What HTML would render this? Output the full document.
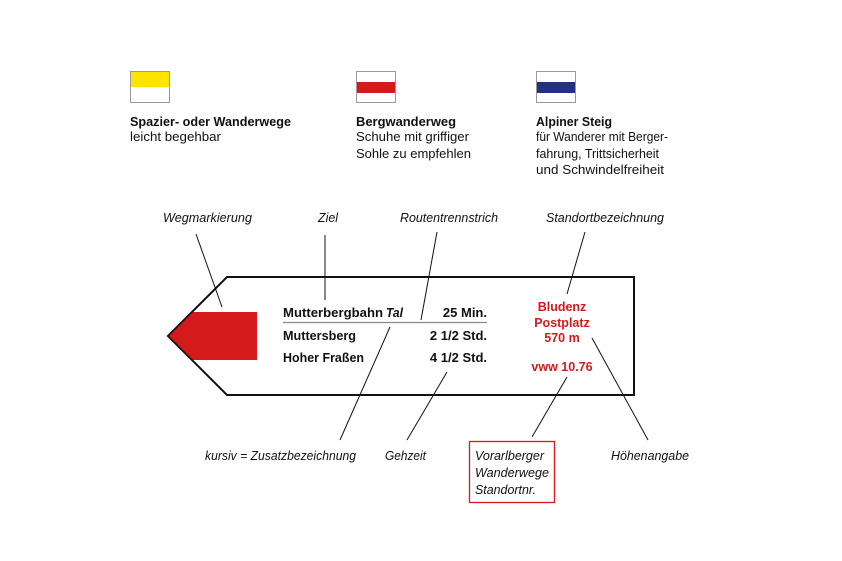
<!DOCTYPE html>
<html><head><meta charset="utf-8"><style>
html,body{margin:0;padding:0;background:#fff;}
svg{display:block;}
text{font-family:"Liberation Sans",sans-serif;}
.b{font-size:13px;font-weight:bold;fill:#111;}
.n{font-size:13px;fill:#111;}
.i{font-size:12.5px;font-style:italic;fill:#111;}
.s{font-size:13px;font-weight:bold;fill:#111;}
.r{font-size:12.5px;font-weight:bold;fill:#d41a1a;}
</style></head><body>
<svg width="842" height="561" viewBox="0 0 842 561" xmlns="http://www.w3.org/2000/svg">
<!-- legend boxes -->
<rect x="130.5" y="71.5" width="39" height="31" fill="#fff" stroke="#999"/>
<rect x="131" y="72" width="38" height="15" fill="#ffe400"/>
<rect x="356.5" y="71.5" width="39" height="31" fill="#fff" stroke="#999"/>
<rect x="357" y="82" width="38" height="11" fill="#d41a1a"/>
<rect x="536.5" y="71.5" width="39" height="31" fill="#fff" stroke="#999"/>
<rect x="537" y="82" width="38" height="11" fill="#263080"/>

<text class="b" x="130" y="126" textLength="161" lengthAdjust="spacingAndGlyphs">Spazier- oder Wanderwege</text>
<text class="n" x="130" y="141" textLength="91" lengthAdjust="spacingAndGlyphs">leicht begehbar</text>
<text class="b" x="356" y="126" textLength="100" lengthAdjust="spacingAndGlyphs">Bergwanderweg</text>
<text class="n" x="356" y="141" textLength="113" lengthAdjust="spacingAndGlyphs">Schuhe mit griffiger</text>
<text class="n" x="356" y="158" textLength="115" lengthAdjust="spacingAndGlyphs">Sohle zu empfehlen</text>
<text class="b" x="536" y="126" textLength="76" lengthAdjust="spacingAndGlyphs">Alpiner Steig</text>
<text class="n" x="536" y="141" textLength="132" lengthAdjust="spacingAndGlyphs">für Wanderer mit Berger-</text>
<text class="n" x="536" y="158" textLength="123" lengthAdjust="spacingAndGlyphs">fahrung, Trittsicherheit</text>
<text class="n" x="536" y="174" textLength="128" lengthAdjust="spacingAndGlyphs">und Schwindelfreiheit</text>

<!-- top labels -->
<text class="i" x="163" y="222" textLength="89" lengthAdjust="spacingAndGlyphs">Wegmarkierung</text>
<text class="i" x="318" y="222" textLength="20" lengthAdjust="spacingAndGlyphs">Ziel</text>
<text class="i" x="400" y="222" textLength="98" lengthAdjust="spacingAndGlyphs">Routentrennstrich</text>
<text class="i" x="546" y="222" textLength="118" lengthAdjust="spacingAndGlyphs">Standortbezeichnung</text>

<!-- sign -->
<polygon points="168,336 227,277 634,277 634,395 227,395" fill="#fff" stroke="#111" stroke-width="2"/>
<polygon points="169,336 193,312 257,312 257,360 193,360" fill="#d41a1a"/>

<text class="s" x="283" y="317" textLength="100" lengthAdjust="spacingAndGlyphs">Mutterbergbahn</text>
<text class="s" x="386" y="317" font-style="italic" textLength="17" lengthAdjust="spacingAndGlyphs">Tal</text>
<text class="s" x="487" y="317" text-anchor="end">25 Min.</text>
<line x1="283" y1="322.5" x2="487" y2="322.5" stroke="#888" stroke-width="1.2"/>
<text class="s" x="283" y="340" textLength="73" lengthAdjust="spacingAndGlyphs">Muttersberg</text>
<text class="s" x="487" y="340" text-anchor="end">2 1/2 Std.</text>
<text class="s" x="283" y="362" textLength="81" lengthAdjust="spacingAndGlyphs">Hoher Fraßen</text>
<text class="s" x="487" y="362" text-anchor="end">4 1/2 Std.</text>

<text class="r" x="562" y="311" text-anchor="middle">Bludenz</text>
<text class="r" x="562" y="327" text-anchor="middle">Postplatz</text>
<text class="r" x="562" y="342" text-anchor="middle">570 m</text>
<text class="r" x="562" y="371" text-anchor="middle">vww 10.76</text>

<!-- connector lines -->
<g stroke="#111" stroke-width="1">
<line x1="196" y1="234" x2="222" y2="307"/>
<line x1="325" y1="235" x2="325" y2="300"/>
<line x1="437" y1="232" x2="421" y2="320"/>
<line x1="585" y1="232" x2="567" y2="294"/>
<line x1="390" y1="327" x2="340" y2="440"/>
<line x1="447" y1="372" x2="407" y2="440"/>
<line x1="567" y1="377" x2="532" y2="437"/>
<line x1="592" y1="338" x2="648" y2="440"/>
</g>

<!-- bottom labels -->
<text class="i" x="205" y="460" textLength="151" lengthAdjust="spacingAndGlyphs">kursiv = Zusatzbezeichnung</text>
<text class="i" x="385" y="460" textLength="41" lengthAdjust="spacingAndGlyphs">Gehzeit</text>
<text class="i" x="611" y="460" textLength="78" lengthAdjust="spacingAndGlyphs">Höhenangabe</text>
<rect x="469.5" y="441.5" width="85" height="61" fill="none" stroke="#d41a1a" stroke-width="1.3"/>
<text class="i" x="475" y="460" textLength="69" lengthAdjust="spacingAndGlyphs">Vorarlberger</text>
<text class="i" x="475" y="477" textLength="74" lengthAdjust="spacingAndGlyphs">Wanderwege</text>
<text class="i" x="475" y="494" textLength="61" lengthAdjust="spacingAndGlyphs">Standortnr.</text>
</svg>
</body></html>
